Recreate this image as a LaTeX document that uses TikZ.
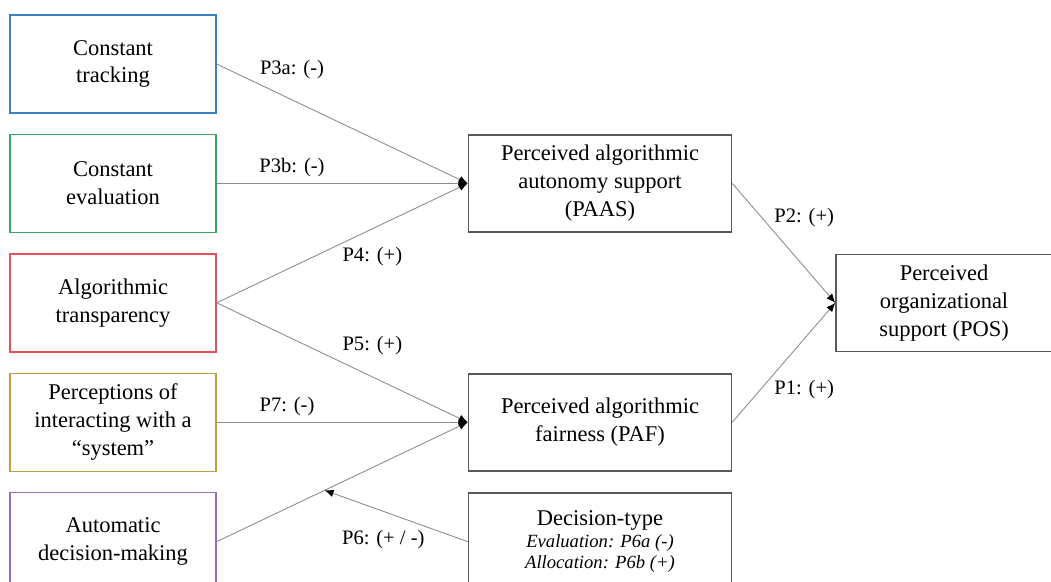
\documentclass[tikz,border=0pt]{standalone}
\usepackage{fontspec}
\setmainfont{Liberation Serif}
\usetikzlibrary{arrows.meta, positioning}
\definecolor{trackblue}{RGB}{62,128,196}
\definecolor{evalgreen}{RGB}{56,168,104}
\definecolor{transpred}{RGB}{226,82,88}
\definecolor{sysgold}{RGB}{190,160,70}
\definecolor{autopurple}{RGB}{150,110,190}

\begin{document}
\begin{tikzpicture}[>={Latex[length=1.8mm,width=1.5mm,color=black]},
    factor/.style={draw, line width=0.8pt, minimum width=4.12cm, minimum height=1.96cm, align=center, font=\fontsize{12.8}{15.9}\selectfont},
    construct/.style={draw=black!65, line width=0.9pt, minimum width=5.26cm, minimum height=1.94cm, align=center, font=\fontsize{12.8}{15.9}\selectfont},
    link/.style={draw=black!45, line width=0.5pt, ->},
    plabel/.style={font=\fontsize{11.7}{14}\selectfont},
    node distance=4mm]
    \useasboundingbox (0,0) rectangle (21.02,-11.62);

    \node(track)[factor, draw=trackblue] at (2.26,-1.28)
        { Constant \\ tracking };
    \node(evalu)[factor, draw=evalgreen, below=of track]
        { Constant \\ evaluation };
    \node(transp)[factor, draw=transpred, below=of evalu]
        { Algorithmic \\ transparency };
    \node(percep)[factor, draw=sysgold, below=of transp]
        { Perceptions of \\ interacting with a \\ ``system'' };
    \node(auto)[factor, draw=autopurple, below=of percep]
        { Automatic \\ decision-making };

    \node(paas)[construct, right=5.02cm of evalu]
        { Perceived algorithmic \\ autonomy support \\ (PAAS) };
    \node(paf)[construct, right=5.02cm of percep]
        { Perceived algorithmic \\ fairness (PAF) };
    \node(dectype)[construct, right=5.02cm of auto]
        { Decision-type \\[-3.8pt] \fontsize{10.6}{12.5}\selectfont\itshape Evaluation: P6a (-) \\[-3.8pt]
          \fontsize{10.6}{12.5}\selectfont\itshape Allocation: P6b (+) };

    \coordinate(posrow) at (paas.east |- transp.east);
    \node(pos)[construct, minimum width=4.32cm, right=2.06cm of posrow]
        { Perceived \\ organizational \\ support (POS) };

    \draw[link] (track.east) -- node[plabel, pos=.3, above=3mm] {P3a: (-)} (paas.west);
    \draw[link] (evalu.east) -- node[plabel, pos=.3, above] {P3b: (-)} (paas.west);
    \draw[link] (transp.east) -- node[plabel, pos=.62, below=2.4mm] {P4: (+)} (paas.west);
    \draw[link] (transp.east) -- node[plabel, pos=.62, above=3.1mm] {P5: (+)} (paf.west);
    \draw[link] (percep.east) -- node[plabel, pos=.28, above] {P7: (-)} (paf.west);
    \draw[link] (auto.east) -- coordinate[pos=.43](p6end) (paf.west);
    \draw[link] (dectype.west) -- node[plabel, pos=.59, below=2.6mm] {P6: (+ / -)} (p6end);
    \draw[link] (paas.east) -- node[plabel, pos=.29, right=1.2mm] {P2: (+)} (pos.west);
    \draw[link] (paf.east) -- node[plabel, pos=.27, right=1.6mm] {P1: (+)} (pos.west);
\end{tikzpicture}
\end{document}
